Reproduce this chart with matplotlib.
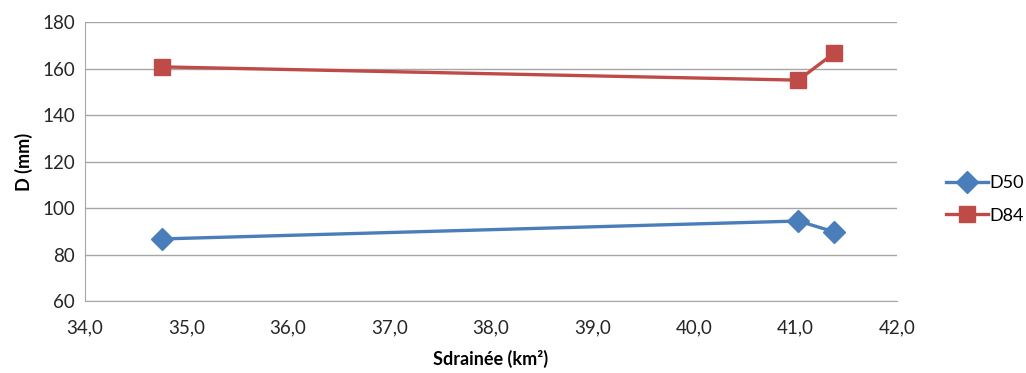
import matplotlib.pyplot as plt

plt.rcParams['font.family'] = ['Lato', 'DejaVu Sans']

# values
s_drainee = [34.76, 41.03, 41.38]
d50 = [86.7, 94.4, 89.8]
d84 = [160.7, 155.0, 166.5]
xticks = [34, 35, 36, 37, 38, 39, 40, 41, 42]
yticks = [60, 80, 100, 120, 140, 160, 180]

blue = "#4A7EBB"
red = "#BE4B48"
grid = "#A6A6A6"

fig = plt.figure(figsize=(10.26, 3.73), dpi=100)
ax = fig.add_axes([0.0828, 0.193, 0.874 - 0.0828, 0.941 - 0.193])

ax.plot(s_drainee, d50, color=blue, lw=2.4, marker="D", ms=11,
        mec=blue, mfc=blue, label="D50", zorder=3)
ax.plot(s_drainee, d84, color=red, lw=2.4, marker="s", ms=11.5,
        mec=red, mfc=red, label="D84", zorder=3)

ax.set_xlim(34, 42)
ax.set_ylim(60, 180)
ax.set_xticks(xticks)
ax.set_xticklabels([f"{v:.1f}".replace(".", ",") for v in xticks])
ax.set_yticks(yticks)
ax.grid(axis="y", color=grid, lw=1)
ax.set_axisbelow(True)
for side in ["top", "right"]:
    ax.spines[side].set_visible(False)
for side in ["left", "bottom"]:
    ax.spines[side].set_color(grid)
ax.tick_params(length=0, labelsize=13.5, colors="#262626", pad=7)
ax.tick_params(axis="x", pad=13)

ax.set_xlabel("Sdrainée (km²)", fontsize=13, fontweight="bold", labelpad=10)
ax.set_ylabel("D (mm)", fontsize=13, fontweight="bold", labelpad=7)

fig.legend(loc="center left", bbox_to_anchor=(0.915, 0.465), frameon=False,
           fontsize=13, handlelength=2.3, handletextpad=0.1, labelspacing=0.9,
           borderaxespad=0)

fig.savefig("out.png", dpi=100)
